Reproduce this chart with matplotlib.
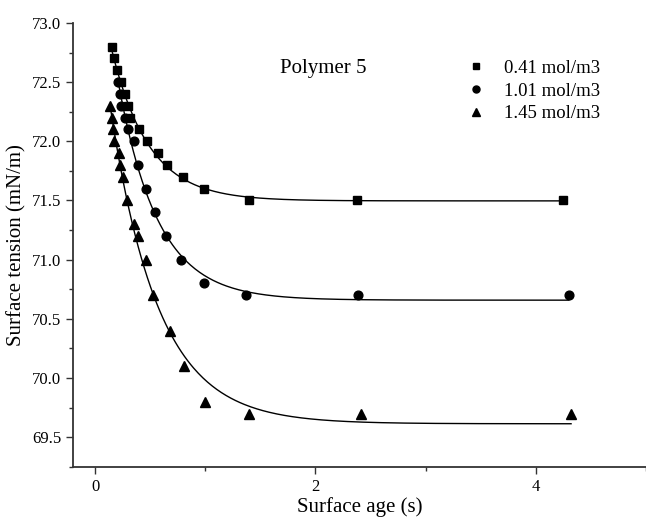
import matplotlib
matplotlib.use("Agg")
import matplotlib.pyplot as plt
import numpy as np
from matplotlib.ticker import MultipleLocator, FormatStrFormatter

# surface age (s) and surface tension (mN/m)
t_041 = [0.15, 0.17, 0.20, 0.24, 0.27, 0.30, 0.32, 0.40, 0.47, 0.57, 0.65, 0.80, 0.99, 1.40, 2.38, 4.25]
s_041 = [72.8, 72.7, 72.6, 72.5, 72.4, 72.3, 72.2, 72.1, 72.0, 71.9, 71.8, 71.7, 71.6, 71.5, 71.5, 71.5]

t_101 = [0.21, 0.23, 0.24, 0.27, 0.30, 0.35, 0.39, 0.46, 0.54, 0.64, 0.78, 0.99, 1.37, 2.39, 4.30]
s_101 = [72.5, 72.4, 72.3, 72.2, 72.1, 72.0, 71.8, 71.6, 71.4, 71.2, 71.0, 70.8, 70.7, 70.7, 70.7]

t_145 = [0.14, 0.15, 0.16, 0.17, 0.22, 0.23, 0.25, 0.29, 0.35, 0.39, 0.46, 0.53, 0.68, 0.81, 1.00, 1.40, 2.41, 4.32]
s_145 = [72.3, 72.2, 72.1, 72.0, 71.9, 71.8, 71.7, 71.5, 71.3, 71.2, 71.0, 70.7, 70.4, 70.1, 69.8, 69.7, 69.7, 69.7]

labels = ['0.41 mol/m3', '1.01 mol/m3', '1.45 mol/m3']
markers = ['s', 'o', '^']
msizes = [6, 6.3, 7]


def exp_fit(t, s):
    # y = y0 + A*exp(-t/tau): scan tau, solve y0 and A by least squares
    t = np.asarray(t)
    s = np.asarray(s)
    best = None
    for tau in np.linspace(0.03, 1.5, 600):
        X = np.column_stack([np.ones_like(t), np.exp(-t / tau)])
        coef, res, _, _ = np.linalg.lstsq(X, s, rcond=None)
        err = ((X @ coef - s) ** 2).sum()
        if best is None or err < best[0]:
            best = (err, tau, coef)
    _, tau, (y0, A) = best
    tt = np.linspace(t.min(), t.max(), 300)
    return tt, y0 + A * np.exp(-tt / tau)


plt.rcParams['font.family'] = ['Liberation Serif', 'DejaVu Serif']

fig = plt.figure(figsize=(6.46, 5.21), dpi=100)
ax = fig.add_axes([0.113, 0.104, 0.887, 0.852])

for t, s, lab, m, ms in zip([t_041, t_101, t_145], [s_041, s_101, s_145], labels, markers, msizes):
    ax.plot(t, s, m, color='black', markersize=ms, linestyle='none', label=lab)
    tt, ss = exp_fit(t, s)
    ax.plot(tt, ss, color='black', linewidth=1.0)

ax.set_xlim(-0.2, 5.0)
ax.set_ylim(69.25, 73.0)
ax.xaxis.set_major_locator(MultipleLocator(2))
ax.xaxis.set_minor_locator(MultipleLocator(1))
ax.yaxis.set_major_locator(MultipleLocator(0.5))
ax.yaxis.set_minor_locator(MultipleLocator(0.25))
ax.yaxis.set_major_formatter(FormatStrFormatter('%.1f'))

for side in ['top', 'right']:
    ax.spines[side].set_visible(False)
for side in ['left', 'bottom']:
    ax.spines[side].set_linewidth(1.3)
    ax.spines[side].set_color('#333333')

ax.tick_params(which='major', direction='out', length=5, width=1.0, labelsize=12, color='#333333')
ax.tick_params(which='minor', direction='out', length=3, width=1.0, color='#333333')

ax.set_xlabel('Surface age (s)', fontsize=15, labelpad=2)
ax.set_ylabel('Surface tension (mN/m)', fontsize=15, labelpad=4)

ax.text(1.68, 72.58, 'Polymer 5', fontsize=15)

ax.legend(loc='upper right', bbox_to_anchor=(0.95, 0.955), frameon=False, fontsize=13.5,
          handletextpad=1.0, markerscale=0.8, labelspacing=0.3, handlelength=1.0)

fig.savefig('out.png', dpi=100)
